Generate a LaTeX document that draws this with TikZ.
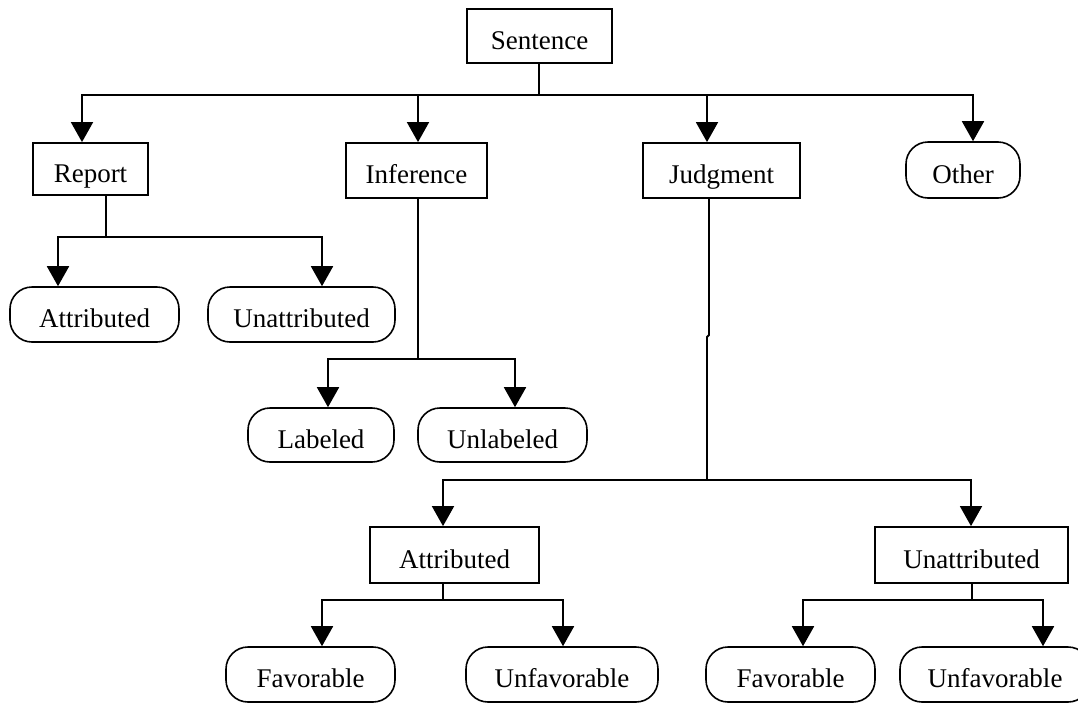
\documentclass[tikz,border=0pt]{standalone}
\usepackage{fontspec}
\setmainfont{Liberation Serif}
\usetikzlibrary{arrows.meta}
\begin{document}
\begin{tikzpicture}[x=1pt,y=-1pt,
  every node/.style={font=\fontsize{27}{30}\selectfont, inner sep=0pt, text=black,
    text height=26pt, text depth=0pt},
  box/.style={draw, line width=1.8pt, rectangle},
  pill/.style={draw, line width=1.6pt, rectangle, rounded corners=22pt},
  conn/.style={line width=1.8pt},
  arr/.style={line width=1.8pt, -{Triangle[width=22pt,length=20pt]}}]
\useasboundingbox[fill=white] (0,0) rectangle (1078,702);

% top level
\node[box, minimum width=145pt, minimum height=54pt] (sent) at (539.5,36) {Sentence};
\node[box, minimum width=115pt, minimum height=52pt] (report) at (90.5,169) {Report};
\node[box, minimum width=141pt, minimum height=55pt] (infer) at (416.5,170.5) {Inference};
\node[box, minimum width=157pt, minimum height=55pt] (judg) at (721.5,170.5) {Judgment};
\node[pill, minimum width=114pt, minimum height=56pt] (other) at (963,170) {Other};

% report children
\node[pill, minimum width=169pt, minimum height=55pt] (rattr) at (94.5,314.5) {Attributed};
\node[pill, minimum width=187pt, minimum height=55pt] (runattr) at (301.5,314.5) {Unattributed};

% inference children
\node[pill, minimum width=146pt, minimum height=54pt] (lab) at (321,435) {Labeled};
\node[pill, minimum width=169pt, minimum height=54pt] (unlab) at (502.5,435) {Unlabeled};

% judgment children
\node[box, minimum width=169pt, minimum height=56pt] (jattr) at (454.5,555) {Attributed};
\node[box, minimum width=193pt, minimum height=56pt] (junattr) at (971.5,555) {Unattributed};

% leaves
\node[pill, minimum width=169pt, minimum height=55pt] (fav1) at (310.5,674.5) {Favorable};
\node[pill, minimum width=192pt, minimum height=55pt] (unfav1) at (562,674.5) {Unfavorable};
\node[pill, minimum width=169pt, minimum height=55pt] (fav2) at (790.5,674.5) {Favorable};
\node[pill, minimum width=190pt, minimum height=55pt] (unfav2) at (995,674.5) {Unfavorable};

% Sentence -> level 1
\coordinate (b0) at (539,95);
\draw[conn] (b0 |- sent.south) -- (b0);
\draw[arr] (b0) -| ([xshift=-8.5pt]report.north);
\draw[arr] (b0) -| ([xshift=1.5pt]infer.north);
\draw[arr] (b0) -| ([xshift=-14.5pt]judg.north);
\draw[arr] (b0) -| ([xshift=10pt]other.north);

% Report -> children
\coordinate (b1) at (106,237);
\draw[conn] ([xshift=15.5pt]report.south) -- (b1);
\draw[arr] (b1) -| ([xshift=-36.5pt]rattr.north);
\draw[arr] (b1) -| ([xshift=20.5pt]runattr.north);

% Inference -> children
\coordinate (b2) at (418,359);
\draw[conn] ([xshift=1.5pt]infer.south) -- (b2);
\draw[arr] (b2) -| ([xshift=7pt]lab.north);
\draw[arr] (b2) -| ([xshift=12.5pt]unlab.north);

% Judgment -> children (with the small jog of the original)
\coordinate (j1) at (709,335);
\coordinate (j2) at (707,337);
\coordinate (b3) at (707,480);
\draw[conn] ([xshift=-12.5pt]judg.south) -- (j1) -- (j2) -- (b3);
\draw[arr] (b3) -| ([xshift=-11.5pt]jattr.north);
\draw[arr] (b3) -| ([xshift=-0.5pt]junattr.north);

% Judgment/Attributed -> leaves
\coordinate (b4) at (443,600);
\draw[conn] ([xshift=-11.5pt]jattr.south) -- (b4);
\draw[arr] (b4) -| ([xshift=11.5pt]fav1.north);
\draw[arr] (b4) -| ([xshift=1pt]unfav1.north);

% Judgment/Unattributed -> leaves
\coordinate (b5) at (972,600);
\draw[conn] ([xshift=0.5pt]junattr.south) -- (b5);
\draw[arr] (b5) -| ([xshift=12.5pt]fav2.north);
\draw[arr] (b5) -| ([xshift=48pt]unfav2.north);
\end{tikzpicture}
\end{document}
